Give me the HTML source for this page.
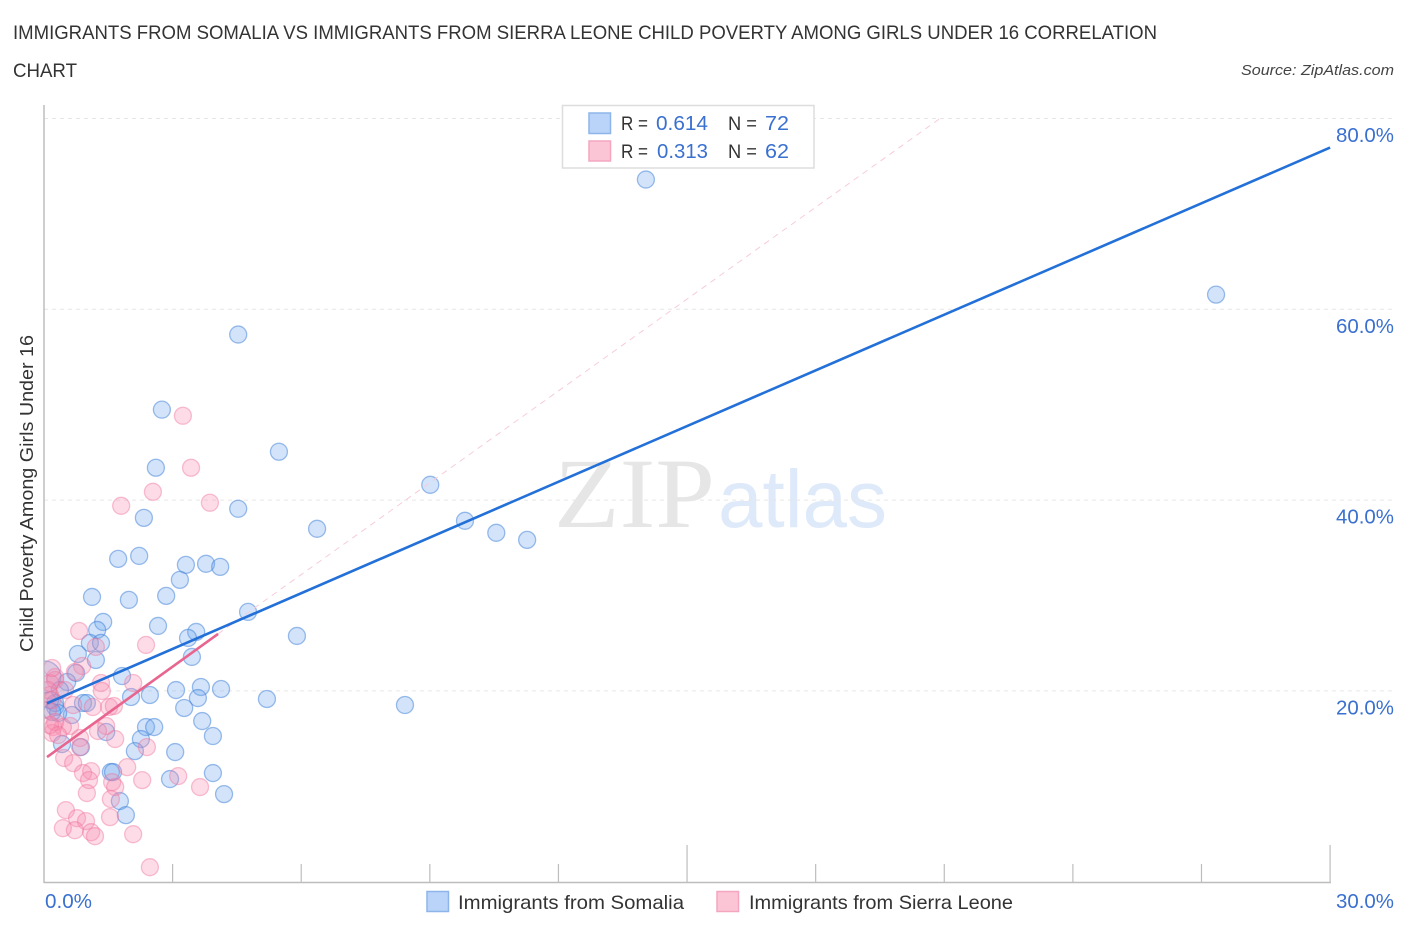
<!DOCTYPE html>
<html lang="en">
<head>
<meta charset="utf-8">
<title>Immigrants from Somalia vs Immigrants from Sierra Leone Child Poverty</title>
<style>
html,body{margin:0;padding:0;background:#fff;width:1406px;height:930px;overflow:hidden}
svg{display:block}
text{font-family:"Liberation Sans",sans-serif}
</style>
</head>
<body>
<svg id="chart" width="1406" height="930" viewBox="0 0 1406 930" xmlns="http://www.w3.org/2000/svg">
  <defs><clipPath id="plot-clip"><rect x="44.5" y="100" width="1300" height="782"/></clipPath></defs>
  <text x="13" y="39" font-size="19" fill="#333" textLength="1144" lengthAdjust="spacingAndGlyphs">IMMIGRANTS FROM SOMALIA VS IMMIGRANTS FROM SIERRA LEONE CHILD POVERTY AMONG GIRLS UNDER 16 CORRELATION</text>
  <text x="13" y="77" font-size="19" fill="#333" textLength="64" lengthAdjust="spacingAndGlyphs">CHART</text>
  <text x="1241" y="75" font-size="15" font-style="italic" fill="#444" textLength="153" lengthAdjust="spacingAndGlyphs">Source: ZipAtlas.com</text>

  <g>
    <text x="554" y="527" font-size="100" fill="#e6e6e6" style="font-family:'Liberation Serif',serif" textLength="161" lengthAdjust="spacingAndGlyphs">ZIP</text>
    <text x="718" y="527" font-size="82" fill="#deeafa" textLength="169" lengthAdjust="spacingAndGlyphs">atlas</text>
  </g>

  <g id="grid"></g>
  <g id="axes"></g>
  <g id="somalia" clip-path="url(#plot-clip)"></g>
  <g id="leone" clip-path="url(#plot-clip)"></g>
  <g id="trends"></g>

  <text transform="translate(33,652) rotate(-90)" font-size="18.5" fill="#333" textLength="317" lengthAdjust="spacingAndGlyphs">Child Poverty Among Girls Under 16</text>

  <g>
    <rect x="562.5" y="105.5" width="251.5" height="62.5" fill="#fff" stroke="#dddddd" stroke-width="1.5"/>
    <rect x="589" y="113" width="21.5" height="20.5" fill="#b9d4f8" stroke="#8db5ea" stroke-width="1.5"/>
    <rect x="589" y="141" width="21.5" height="20" fill="#fcc5d6" stroke="#f4a6c0" stroke-width="1.5"/>
    <text x="621" y="130" font-size="19.5" fill="#333" textLength="27" lengthAdjust="spacingAndGlyphs">R =</text>
    <text x="656" y="130" font-size="20" fill="#3a70cf" textLength="52" lengthAdjust="spacingAndGlyphs">0.614</text>
    <text x="728" y="130" font-size="19.5" fill="#333" textLength="29" lengthAdjust="spacingAndGlyphs">N =</text>
    <text x="765" y="130" font-size="20" fill="#3a70cf" textLength="24" lengthAdjust="spacingAndGlyphs">72</text>
    <text x="621" y="158" font-size="19.5" fill="#333" textLength="27" lengthAdjust="spacingAndGlyphs">R =</text>
    <text x="657" y="158" font-size="20" fill="#3a70cf" textLength="51" lengthAdjust="spacingAndGlyphs">0.313</text>
    <text x="728" y="158" font-size="19.5" fill="#333" textLength="29" lengthAdjust="spacingAndGlyphs">N =</text>
    <text x="765" y="158" font-size="20" fill="#3a70cf" textLength="24" lengthAdjust="spacingAndGlyphs">62</text>
  </g>

  <g>
    <rect x="427" y="891.5" width="21.5" height="20" fill="#b9d4f8" stroke="#8db5ea" stroke-width="1.5"/>
    <text x="458" y="909" font-size="19.5" fill="#333" textLength="226" lengthAdjust="spacingAndGlyphs">Immigrants from Somalia</text>
    <rect x="717" y="891.5" width="21.5" height="20" fill="#fcc5d6" stroke="#f4a6c0" stroke-width="1.5"/>
    <text x="749" y="909" font-size="19.5" fill="#333" textLength="264" lengthAdjust="spacingAndGlyphs">Immigrants from Sierra Leone</text>
  </g>
</svg>
<script>
const xTicks = [0, 3, 6, 9, 12, 15, 18, 21, 24, 27, 30];
const xMajorTicks = [15, 30];
const xTickLabels = ["0.0%", "30.0%"];
const yTicks = [20, 40, 60, 80];
const yTickLabels = ["20.0%", "40.0%", "60.0%", "80.0%"];

const somaliaX = [14.04,27.34,4.53,2.75,5.48,2.61,9.01,4.53,2.33,9.82,6.37,10.55,11.27,2.22,1.73,3.31,3.78,4.11,3.17,1.12,2.85,1.98,1.38,1.24,2.66,3.55,3.36,1.07,1.33,0.79,1.21,3.45,4.76,5.90,0.75,1.82,0.54,3.66,3.08,4.13,2.03,2.47,3.59,3.27,5.20,8.42,0.91,1.00,0.26,0.65,3.69,3.94,2.38,2.57,2.26,1.45,0.42,0.86,2.12,3.06,1.56,1.61,2.94,3.94,4.20,1.77,1.91,0.26,0.33,0.14,0.37,0.19];
const somaliaY = [73.6,61.54,57.35,49.48,45.07,43.39,41.6,39.09,38.14,37.83,36.99,36.57,35.83,34.15,33.84,33.21,33.32,33.0,31.64,29.85,29.96,29.54,27.23,26.39,26.81,26.18,25.55,25.03,25.03,23.87,23.24,23.56,28.28,25.76,21.88,21.56,20.93,20.41,20.09,20.2,19.36,19.57,19.25,18.21,19.15,18.52,18.73,18.73,18.31,17.47,16.84,15.27,16.21,16.21,14.95,15.69,14.43,14.11,13.69,13.59,11.49,11.49,10.76,11.39,9.18,8.45,6.98,18.73,17.68,19.04,20.09,17.79];
const somaliaHeavyX = [0.02];
const somaliaHeavyY = [21.46];

const leoneX = [0.82,2.38,1.21,0.89,0.72,1.33,1.35,2.08,0.26,0.14,0.68,1.14,1.52,1.63,1.45,1.26,1.66,2.40,0.61,0.84,0.44,0.21,0.19,0.84,0.47,0.68,1.10,0.91,1.05,1.94,2.29,3.13,3.64,1.59,1.66,1.00,1.56,0.51,1.54,0.77,0.98,0.44,0.72,1.10,1.19,2.08,2.47,3.24,3.43,2.54,1.80,3.87,0.26,0.14,0.19,0.09,0.26,0.14,0.33,0.49,0.09,0.19];
const leoneY = [26.28,24.82,24.61,22.61,21.98,20.83,19.99,20.83,21.46,20.83,18.52,18.31,18.31,18.42,16.32,15.79,14.95,14.11,16.32,15.06,16.21,16.21,15.58,14.11,12.96,12.43,11.59,11.39,10.65,12.01,10.65,11.07,9.92,10.44,9.92,9.29,8.66,7.5,6.77,6.66,6.35,5.61,5.4,5.19,4.77,4.98,1.52,48.84,43.39,40.87,39.4,39.72,21.14,19.57,19.04,18.0,16.74,16.42,15.37,20.09,20.09,22.4];

const somaliaTrendX = [0.07, 30];
const somaliaTrendY = [18.7, 76.95];
const leoneTrendX = [0.07, 4.06];
const leoneTrendY = [13.06, 25.97];
const leoneDashX = [4.06, 20.9];
const leoneDashY = [25.97, 80];

const NS = "http://www.w3.org/2000/svg";
function xScale(v) { return 44 + v * 42.87; }
function yScale(v) { return 881.7 - v * 9.54; }
function make(parent, tag, props, text) {
  const el = document.createElementNS(NS, tag);
  for (const k in props) el.setAttribute(k, props[k]);
  if (text !== undefined) el.textContent = text;
  document.getElementById(parent).appendChild(el);
  return el;
}

yTicks.forEach(function (t, i) {
  const line = make("grid", "line", {x1: 44, x2: 1394, y1: yScale(t), y2: yScale(t), stroke: "#e6e6e6", "stroke-width": 1, "stroke-dasharray": "4 4"});
  
  
  const label = make("axes", "text", {x: 1394, y: yScale(t) + 23.5, "text-anchor": "end", "font-size": 20, fill: "#3a70cf", textLength: 58, lengthAdjust: "spacingAndGlyphs"}, yTickLabels[i]);
  
  
});

const yAxis = make("axes", "line", {x1: 44, x2: 44, y1: 105, y2: 883, stroke: "#bdbdbd", "stroke-width": 1.5});


const xAxis = make("axes", "line", {x1: 44, x2: 1331, y1: 882.5, y2: 882.5, stroke: "#bdbdbd", "stroke-width": 1.5});



xTicks.slice(1).forEach(function (t) {
  const top = xMajorTicks.indexOf(t) >= 0 ? 845 : 864;
  const tick = make("axes", "line", {x1: xScale(t), x2: xScale(t), y1: top, y2: 882, stroke: "#bdbdbd", "stroke-width": 1.2});
  
  
});

const xLabelStart = make("axes", "text", {x: 45, y: 908, "font-size": 20, fill: "#3a70cf", textLength: 47, lengthAdjust: "spacingAndGlyphs"}, xTickLabels[0]);


const xLabelEnd = make("axes", "text", {x: 1336, y: 908, "font-size": 20, fill: "#3a70cf", textLength: 58, lengthAdjust: "spacingAndGlyphs"}, xTickLabels[1]);



const BLUE = {fill: "rgba(110,165,240,0.30)", stroke: "rgba(60,125,215,0.50)"};
const PINK = {fill: "rgba(248,140,175,0.30)", stroke: "rgba(238,110,150,0.42)"};

somaliaHeavyX.forEach(function (v, i) {
  const dot = make("somalia", "circle", {cx: xScale(v), cy: yScale(somaliaHeavyY[i]), r: 16, fill: BLUE.fill, stroke: BLUE.stroke, "stroke-width": 1.3});
  
  
});
somaliaX.forEach(function (v, i) {
  const dot = make("somalia", "circle", {cx: xScale(v), cy: yScale(somaliaY[i]), r: 8.5, fill: BLUE.fill, stroke: BLUE.stroke, "stroke-width": 1.3});
  
  
});
leoneX.forEach(function (v, i) {
  const dot = make("leone", "circle", {cx: xScale(v), cy: yScale(leoneY[i]), r: 8.5, fill: PINK.fill, stroke: PINK.stroke, "stroke-width": 1.3});
  
  
});

const dash = make("trends", "line", {x1: xScale(leoneDashX[0]), y1: yScale(leoneDashY[0]), x2: xScale(leoneDashX[1]), y2: yScale(leoneDashY[1]), stroke: "#f6ccd9", "stroke-width": 1, "stroke-dasharray": "6 5"});


const somaliaTrend = make("trends", "line", {x1: xScale(somaliaTrendX[0]), y1: yScale(somaliaTrendY[0]), x2: xScale(somaliaTrendX[1]), y2: yScale(somaliaTrendY[1]), stroke: "#2270d8", "stroke-width": 2.6});


const leoneTrend = make("trends", "line", {x1: xScale(leoneTrendX[0]), y1: yScale(leoneTrendY[0]), x2: xScale(leoneTrendX[1]), y2: yScale(leoneTrendY[1]), stroke: "#e8658f", "stroke-width": 2.6});


</script>
</body>
</html>
